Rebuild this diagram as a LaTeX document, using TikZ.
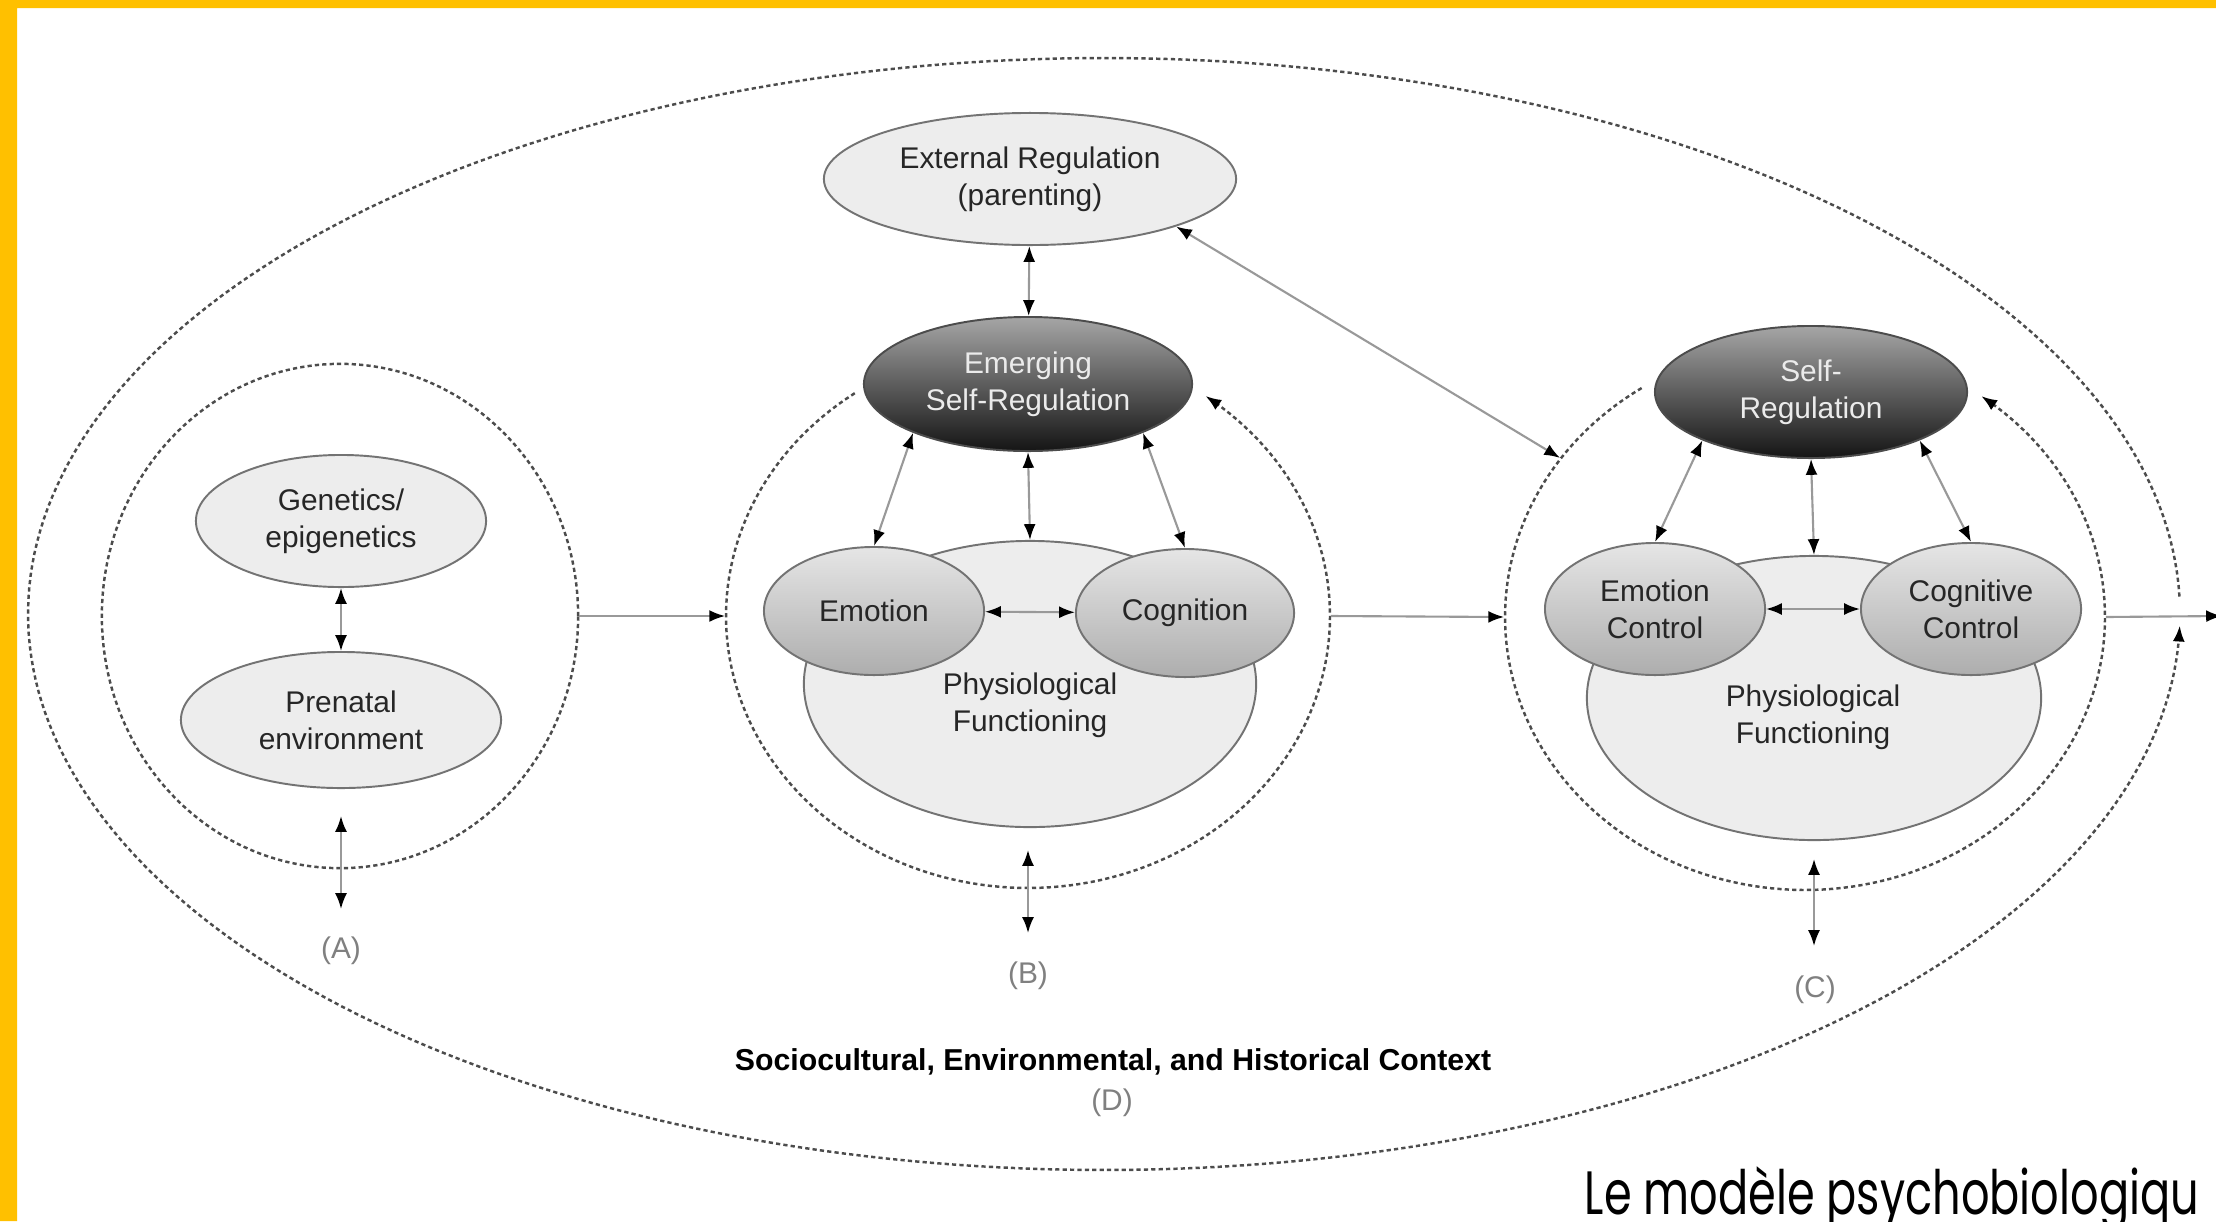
\documentclass[tikz,border=0pt]{standalone}
\usepackage{fontspec}
\setmainfont{Liberation Sans}
\newfontfamily\notefont[FakeStretch=0.73]{Poppins}
\usetikzlibrary{arrows.meta,shapes.geometric}
\definecolor{bandyellow}{HTML}{FFC000}
\begin{document}
\begin{tikzpicture}[x=0.01cm,y=-0.01cm,>={Latex[length=4.5pt,width=3.4pt,color=black]},
    font=\fontsize{8.5}{10.6}\selectfont,every node/.style={align=center},
    baseoval/.style={ellipse,draw=black!55,line width=0.55pt,inner sep=0pt,text=black!85},
    paleoval/.style={baseoval,fill=black!7},
    greyoval/.style={baseoval,top color=black!10,bottom color=black!32},
    darkoval/.style={baseoval,draw=black!70,top color=black!35,bottom color=black!92,text=white!92!black},
    ringshape/.style={ellipse,inner sep=0pt},
    ringline/.style={draw=black!70,line width=0.7pt,dash pattern=on 1.2pt off 0.9pt},
    linkline/.style={draw=black!40,line width=0.6pt},
    tagtext/.style={text=black!50}]
    \useasboundingbox (0,0) rectangle (2216,1221);
    \fill[white] (0,0) rectangle (2216,1221);
    % dashed rings
    \node[ringshape,ringline,minimum width=4.76cm,minimum height=5.04cm] (ringA) at (340,616) {};
    \node[ringshape,minimum width=6.04cm,minimum height=5.44cm] (ringB) at (1028,616) {};
    \node[ringshape,minimum width=6.00cm,minimum height=5.46cm] (ringC) at (1805,617) {};
    \node[ringshape,minimum width=21.52cm,minimum height=11.12cm] (ringD) at (1104,614) {};
    \draw[ringline,->] plot[domain=125:414,samples=150] ({1028+302*cos(\x)},{616-272*sin(\x)});
    \draw[ringline,->] plot[domain=123:414,samples=150] ({1805+300*cos(\x)},{617-273*sin(\x)});
    \draw[ringline,->] plot[domain=1.8:358.8,samples=300] ({1104+1076*cos(\x)},{614-556*sin(\x)});
    % (A)
    \node[paleoval,minimum width=2.90cm,minimum height=1.32cm] (genetics) at (341,521) {Genetics/\\epigenetics};
    \node[paleoval,minimum width=3.20cm,minimum height=1.36cm] (prenatal) at (341,720) {Prenatal\\environment};
    % (B)
    \node[paleoval,minimum width=4.12cm,minimum height=1.32cm] (extreg) at (1030,179) {External Regulation\\(parenting)};
    \node[darkoval,minimum width=3.28cm,minimum height=1.34cm] (emerging) at (1028,384) {Emerging\\Self-Regulation};
    \node[paleoval,minimum width=4.52cm,minimum height=2.86cm] (physB) at (1030,684) {};
    \node[greyoval,minimum width=2.20cm,minimum height=1.28cm] (emotion) at (874,611) {Emotion};
    \node[greyoval,minimum width=2.18cm,minimum height=1.28cm] (cognition) at (1185,613) {Cognition};
    \node[text=black!85] (physBtext) at (1030,705) {Physiological\\Functioning};
    % (C)
    \node[darkoval,minimum width=3.12cm,minimum height=1.32cm] (selfreg) at (1811,392) {Self-\\Regulation};
    \node[paleoval,minimum width=4.54cm,minimum height=2.84cm] (physC) at (1814,698) {};
    \node[greyoval,minimum width=2.20cm,minimum height=1.32cm] (emoctrl) at (1655,609) {Emotion\\Control};
    \node[greyoval,minimum width=2.20cm,minimum height=1.32cm] (cogctrl) at (1971,609) {Cognitive\\Control};
    \node[text=black!85] (physCtext) at (1813,717) {Physiological\\Functioning};
    % links
    \draw[linkline,<->] (genetics) -- (prenatal);
    \draw[linkline,<->] (extreg) -- (emerging);
    \draw[linkline,<->] (emerging.203) -- (emotion.north);
    \draw[linkline,<->] (emerging.south) -- (physB.north);
    \draw[linkline,<->] (emerging.337) -- (cognition.north);
    \draw[linkline,<->] (emotion) -- (cognition);
    \draw[linkline,<->] (selfreg.204) -- (emoctrl.north);
    \draw[linkline,<->] (selfreg.south) -- (physC.north);
    \draw[linkline,<->] (selfreg.336) -- (cogctrl.north);
    \draw[linkline,<->] (emoctrl) -- (cogctrl);
    \draw[linkline,<->] (extreg.342) -- (ringC.147);
    \draw[linkline,->] (ringA.east) -- (ringB.west);
    \draw[linkline,->] (ringB.east) -- (ringC.west);
    \coordinate (exit) at (2222,616);
    \draw[linkline,->] (ringC.east) -- (exit);
    \coordinate (lowA1) at (341,816); \coordinate (lowA2) at (341,909);
    \coordinate (lowB1) at (1028,850); \coordinate (lowB2) at (1028,933);
    \coordinate (lowC1) at (1814,859); \coordinate (lowC2) at (1814,946);
    \draw[linkline,<->] (lowA1) -- (lowA2);
    \draw[linkline,<->] (lowB1) -- (lowB2);
    \draw[linkline,<->] (lowC1) -- (lowC2);
    % labels
    \node[tagtext] (labA) at (341,951) {(A)};
    \node[tagtext] (labB) at (1028,976) {(B)};
    \node[tagtext] (labC) at (1815,990) {(C)};
    \node[font=\fontsize{8.6}{10}\selectfont\bfseries] (context) at (1113,1062) {Sociocultural, Environmental, and Historical Context};
    \node[tagtext] (labD) at (1112,1103) {(D)};
    \node[anchor=base west,inner sep=0pt,font=\notefont\fontsize{17.4}{20}\selectfont] (caption) at (1584,1214) {Le modèle psychobiologiqu};
    \fill[bandyellow] (0,0) rectangle (2216,8) (0,0) rectangle (17,1221);
\end{tikzpicture}
\end{document}
